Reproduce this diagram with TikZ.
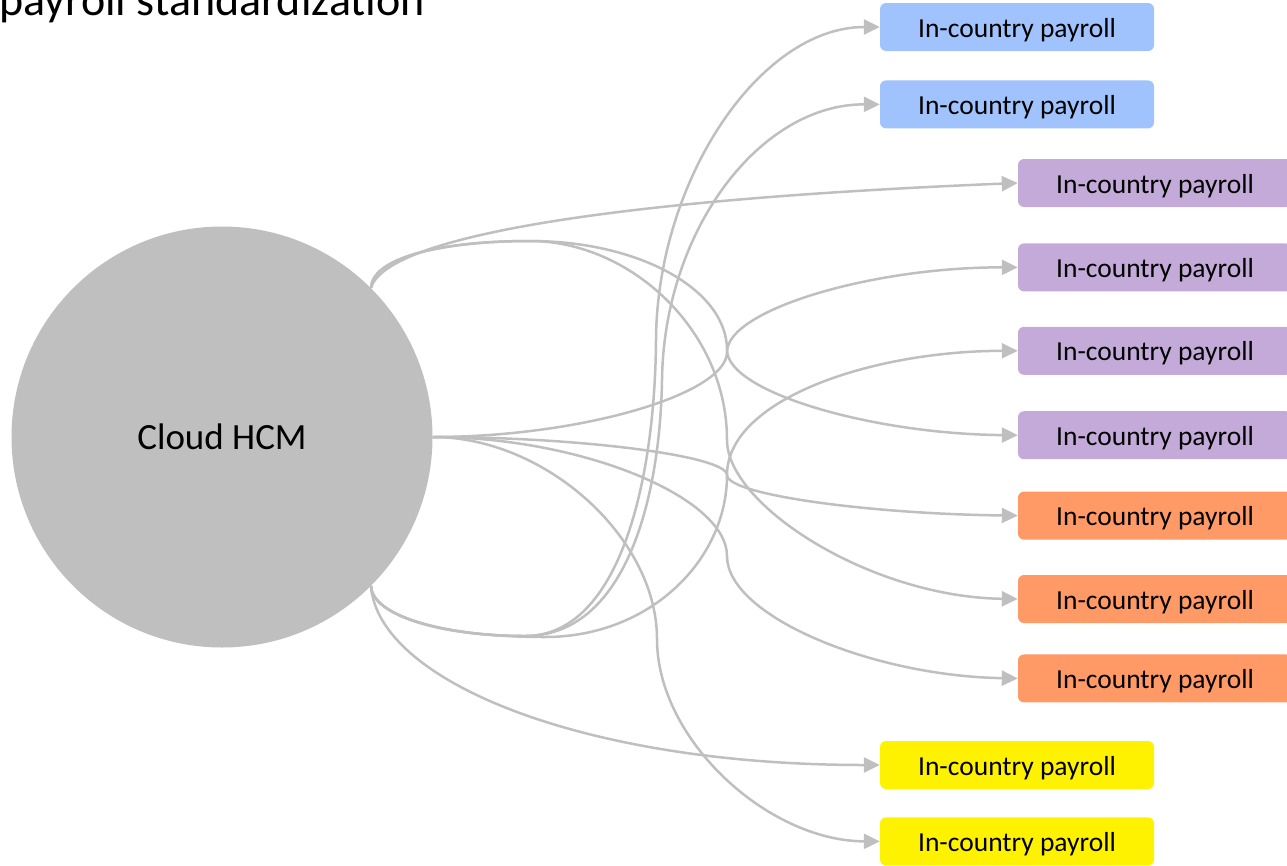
\documentclass[tikz,border=0pt]{standalone}
\usepackage{fontspec}
\setmainfont{Carlito}
\usetikzlibrary{positioning,arrows.meta}
\definecolor{hubgray}{HTML}{BFBFBF}
\definecolor{linkgray}{HTML}{BFBFBF}
\definecolor{payblue}{HTML}{A0C3FD}
\definecolor{paypurple}{HTML}{C4AAD9}
\definecolor{payorange}{HTML}{FF9966}
\definecolor{payyellow}{HTML}{FFF200}

\begin{document}
\begin{tikzpicture}[x=1pt, y=-1pt,
      hub/.style={circle, fill=hubgray, minimum size=421pt, inner sep=0pt,
        font=\fontsize{37}{44}\selectfont},
      paybox/.style={rounded corners=6pt, minimum width=274pt,
        minimum height=48pt, inner sep=0pt, text height=20pt, text depth=0pt,
        font=\fontsize{27.5}{33}\selectfont},
      link/.style={draw=linkgray, line width=2.5pt,
        -{Triangle[length=16pt, width=15pt]}}]

    \useasboundingbox (0,0) rectangle (1287,865);

    % title, cut by the page edge
    \node[anchor=base east, inner sep=0pt, font=\fontsize{46}{55}\selectfont]
      (title) at (425,15) {payroll standardization};

    % hub
    \node[hub] (hcm) at (222,437) {Cloud HCM};

    % blue
    \node[paybox, fill=payblue] (b1) at (1017,27) {In-country payroll};
    \node[paybox, fill=payblue, below=29pt of b1] (b2) {In-country payroll};
    % purple
    \node[paybox, fill=paypurple] (p1) at (1155,183) {In-country payroll};
    \node[paybox, fill=paypurple, below=36pt of p1] (p2) {In-country payroll};
    \node[paybox, fill=paypurple, below=35pt of p2] (p3) {In-country payroll};
    \node[paybox, fill=paypurple, below=36pt of p3] (p4) {In-country payroll};
    % orange
    \node[paybox, fill=payorange, below=32pt of p4] (o1) {In-country payroll};
    \node[paybox, fill=payorange, below=35pt of o1] (o2) {In-country payroll};
    \node[paybox, fill=payorange, below=31pt of o2] (o3) {In-country payroll};
    % yellow
    \node[paybox, fill=payyellow] (y1) at (1017,765) {In-country payroll};
    \node[paybox, fill=payyellow, below=28pt of y1] (y2) {In-country payroll};

    % from the upper site
    \draw[link] (hcm.45) .. controls (385,238) and (600,200) .. (p1.west);
    \draw[link] (hcm.45) .. controls (372,258) and (440,241) .. (530,241)
      .. controls (640,241) and (727,290) .. (727,350)
      .. controls (727,392) and (872,434) .. (p4.west);
    \draw[link] (hcm.45) .. controls (372,258) and (440,241) .. (530,241)
      .. controls (630,241) and (727,330) .. (727,440)
      .. controls (727,505) and (870,597) .. (o2.west);

    % from the right
    \draw[link] (hcm.east) .. controls (581,437) and (727,394) .. (727,352)
      .. controls (727,310) and (872,267) .. (p2.west);
    \draw[link] (hcm.east) .. controls (581,437) and (727,456) .. (727,475)
      .. controls (727,495) and (872,514) .. (o1.west);
    \draw[link] (hcm.east) .. controls (581,437) and (727,497) .. (727,556)
      .. controls (727,616) and (872,676) .. (o3.west);
    \draw[link] (hcm.east) .. controls (546,437) and (657,538) .. (657,639)
      .. controls (657,740) and (768,841) .. (y2.west);

    % from the lower site
    \draw[link] (hcm.-45) .. controls (372,615) and (440,636) .. (525,636)
      .. controls (620,636) and (655,480) .. (656,340)
      .. controls (657,180) and (760,27) .. (b1.west);
    \draw[link] (hcm.-45) .. controls (372,615) and (440,636) .. (525,636)
      .. controls (625,636) and (660,500) .. (662,380)
      .. controls (664,230) and (760,104) .. (b2.west);
    \draw[link] (hcm.-45) .. controls (372,615) and (440,637) .. (545,637)
      .. controls (650,637) and (727,560) .. (727,475)
      .. controls (727,400) and (870,351) .. (p3.west);
    \draw[link] (hcm.-45) .. controls (378,680) and (580,765) .. (y1.west);
  \end{tikzpicture}
\end{document}
